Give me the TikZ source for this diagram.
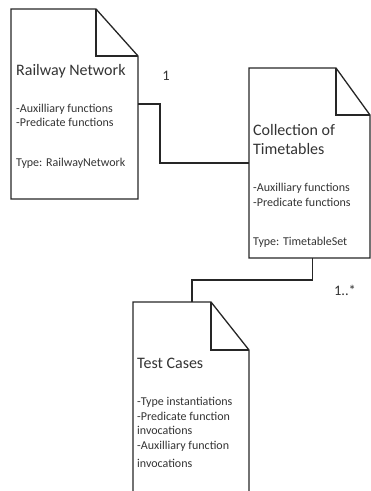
\documentclass[tikz,border=0pt]{standalone}
\usepackage{fontspec}
\setmainfont{Carlito}
\usetikzlibrary{calc}

\tikzset{
  docframe/.style={draw=none, inner sep=0pt, outer sep=0pt},
  outline/.style={draw=black!85, line width=1.3pt, line join=miter},
  wire/.style={draw=black!85, line width=1.3pt},
  doctitle/.style={anchor=base west, inner sep=0pt, text=black!80, font=\fontsize{16}{19}\selectfont},
  docline/.style={anchor=base west, inner sep=0pt, text=black!80, font=\fontsize{12}{14}\selectfont},
  multlabel/.style={anchor=base, inner sep=0pt, text=black!80, font=\fontsize{14.5}{16}\selectfont}
}

% closed page with a folded top-right corner: #1 node, #2 fold width, #3 fold height
\newcommand\docpage[3]{%
  \draw[outline] (#1.south west) -- (#1.north west) -- ($(#1.north east)+(-#2,0)$)
    -- ($(#1.north east)+(0,#3)$) -- (#1.south east) -- cycle;
  \draw[outline] ($(#1.north east)+(-#2,0)$) -- ($(#1.north east)+(-#2,#3)$)
    -- ($(#1.north east)+(0,#3)$);
}
% page running off the bottom edge (no bottom line)
\newcommand\docpageopen[3]{%
  \draw[outline] (#1.south west) -- (#1.north west) -- ($(#1.north east)+(-#2,0)$)
    -- ($(#1.north east)+(0,#3)$) -- (#1.south east);
  \draw[outline] ($(#1.north east)+(-#2,0)$) -- ($(#1.north east)+(-#2,#3)$)
    -- ($(#1.north east)+(0,#3)$);
}

\begin{document}
\begin{tikzpicture}[x=1pt, y=-1pt]
\useasboundingbox (0,0) rectangle (371,491);

% page frames
\node[docframe, minimum width=127pt, minimum height=190pt] (rn)  at (74.5,104) {};
\node[docframe, minimum width=121pt, minimum height=190pt] (col) at (309.5,163) {};
\node[docframe, minimum width=116pt, minimum height=200pt] (tc)  at (191,402) {};

\docpage{rn}{42}{47}
\docpage{col}{34}{47}
\docpageopen{tc}{38}{48}

% Railway Network
\node[doctitle] (rnT)  at (16,75)  {Railway Network};
\node[docline]  (rnA)  at (16,112) {-Auxilliary functions};
\node[docline]  (rnP)  at (16,126) {-Predicate functions};
\node[docline]  (rnY)  at (16,166) {Type: RailwayNetwork};

% Collection of Timetables
\node[doctitle] (colT1) at (253,135) {Collection of};
\node[doctitle] (colT2) at (253,154) {Timetables};
\node[docline]  (colA)  at (253,191) {-Auxilliary functions};
\node[docline]  (colP)  at (253,206) {-Predicate functions};
\node[docline]  (colY)  at (253,245) {Type: TimetableSet};

% Test Cases
\node[doctitle] (tcT)  at (137,368) {Test Cases};
\node[docline]  (tc1)  at (137,405) {-Type instantiations};
\node[docline]  (tc2)  at (137,420) {-Predicate function};
\node[docline]  (tc3)  at (137,434) {invocations};
\node[docline]  (tc4)  at (137,449) {-Auxilliary function};
\node[docline]  (tc5)  at (137,467) {invocations};

% associations
\draw[wire] (rn.east) -- ++(22,0) |- (col.west);
\draw[wire] ([xshift=3pt]col.south) -- ++(0,22) -| ([xshift=1pt]tc.north);

\node[multlabel] (m1) at (166,80)  {1};
\node[multlabel] (m2) at (345,295) {1..*};
\end{tikzpicture}
\end{document}
